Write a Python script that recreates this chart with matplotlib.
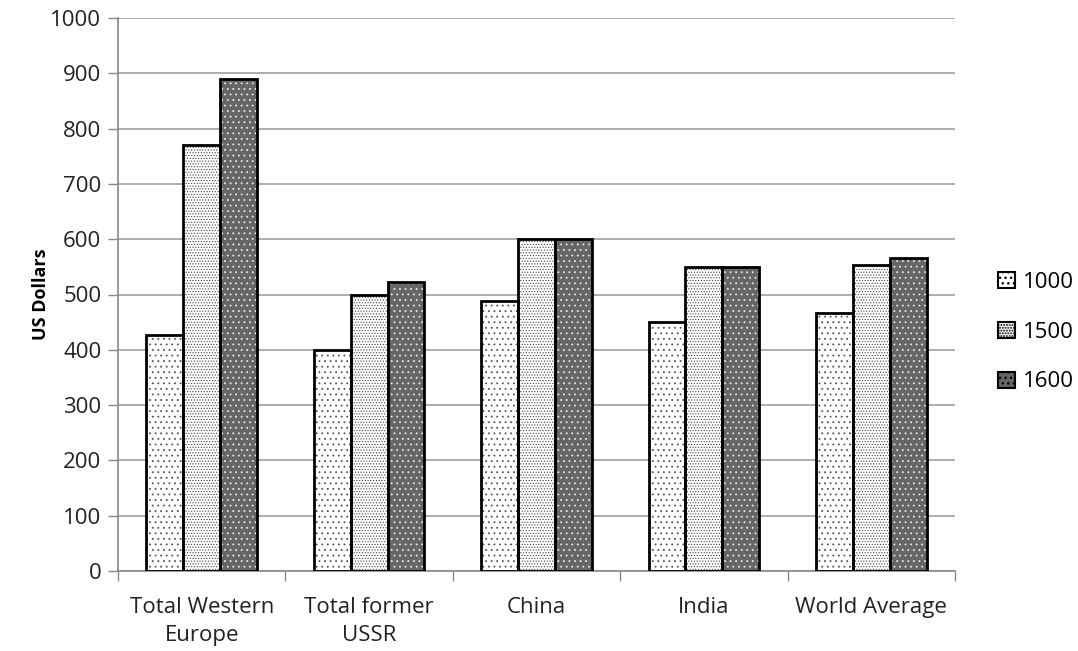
import numpy as np
import matplotlib
matplotlib.use("Agg")
import matplotlib.pyplot as plt
from matplotlib.patches import Patch

regions = ["Total Western\nEurope", "Total former\nUSSR", "China", "India", "World Average"]
years = ["1000", "1500", "1600"]
v1000 = [427, 400, 488, 450, 467]
v1500 = [771, 499, 600, 550, 553]
v1600 = [889, 522, 600, 550, 566]

plt.rcParams['font.family'] = ['Open Sans', 'DejaVu Sans']

fig = plt.figure(figsize=(10.78, 6.51), dpi=100)
ax = fig.add_axes([118 / 1078, 80 / 651, (955 - 118) / 1078, (571 - 18) / 651])

x = np.arange(len(regions))
w = 0.22
# fill colour, hatch, hatch colour, hatch line width
styles = [
    ('white', '...', '#555555', 0.6),
    ('white', '......', '#444444', 0.5),
    ('#666666', '...', '#e8e8e8', 0.6),
]
series = [v1000, v1500, v1600]
for i, (vals, st) in enumerate(zip(series, styles)):
    pos = x + (i - 1) * w
    face, hatch, hcol, hlw = st
    with plt.rc_context({'hatch.linewidth': hlw}):
        ax.bar(pos, vals, w, color=face, edgecolor=hcol, hatch=hatch,
               linewidth=0, zorder=2)
    ax.bar(pos, vals, w, fill=False, edgecolor='black', linewidth=2, zorder=3)

ax.set_ylim(0, 1000)
ax.set_xlim(-0.5, len(regions) - 0.5)
ax.set_yticks(np.arange(0, 1001, 100))
ax.yaxis.grid(True, color='#a0a0a0', linewidth=1.2)
ax.set_axisbelow(True)

ax.set_xticks(np.arange(-0.5, len(regions), 1.0))
ax.set_xticklabels([])
ax.set_xticks(x, minor=True)
ax.set_xticklabels(regions, minor=True, fontsize=16, color='#222222',
                   linespacing=1.4)
ax.tick_params(axis='x', which='minor', length=0, pad=19)
ax.tick_params(axis='x', which='major', length=7, color='#888888', width=1)
ax.tick_params(axis='y', length=7, color='#888888', width=1, labelsize=16,
               labelcolor='#222222', pad=5)

for s in ['top', 'right']:
    ax.spines[s].set_visible(False)
for s in ['left', 'bottom']:
    ax.spines[s].set_color('#888888')
    ax.spines[s].set_linewidth(1.2)

ax.set_ylabel('US Dollars', fontsize=13, fontweight='bold', labelpad=0)

leg_handles = []
for face, hatch, hcol, hlw in styles:
    leg_handles.append(Patch(facecolor=face, edgecolor='black', hatch=hatch,
                             linewidth=1.5))
fig.legend(leg_handles, years, loc='center left',
           bbox_to_anchor=(978 / 1078, 1 - 332 / 651), frameon=False,
           fontsize=16, handlelength=0.75, handleheight=0.75,
           handletextpad=0.35, labelspacing=1.3)

fig.savefig('out.png', dpi=100)
